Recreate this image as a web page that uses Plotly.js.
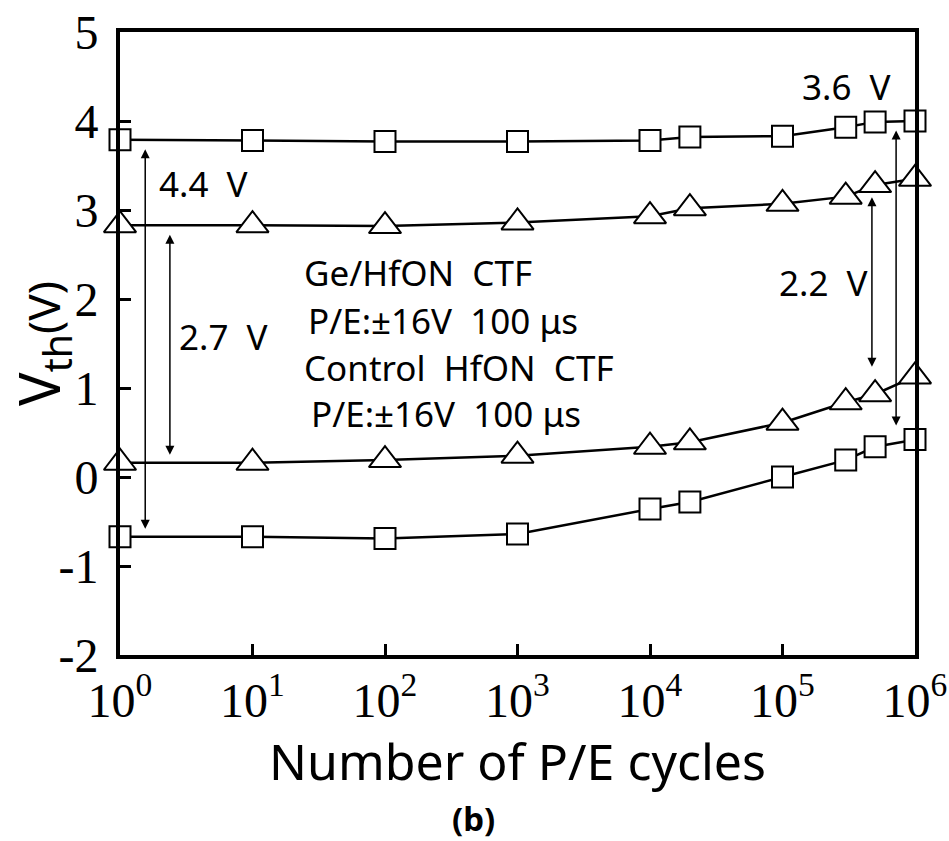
<!DOCTYPE html>
<html>
<head>
<meta charset="utf-8">
<script src="https://cdn.plot.ly/plotly-3.0.1.min.js"></script>
<style>
  html, body { margin: 0; padding: 0; background: #fff; }
  #chart { width: 949px; height: 841px; }
</style>
</head>
<body>
<div id="chart"></div>
<script>
// P/E cycle counts
const cycles = [1, 10, 100, 1000, 1e4, 2e4, 1e5, 3e5, 5e5, 1e6];

// Threshold voltage (V) after program / erase
const geProgrammed   = [3.79, 3.78, 3.77, 3.77, 3.78, 3.82, 3.83, 3.93, 3.99, 4.00];
const geErased       = [-0.67, -0.67, -0.69, -0.64, -0.36, -0.28, 0.00, 0.19, 0.34, 0.42];
const ctrlProgrammed = [2.83, 2.83, 2.82, 2.86, 2.93, 3.02, 3.07, 3.15, 3.28, 3.35];
const ctrlErased     = [0.16, 0.16, 0.19, 0.24, 0.34, 0.39, 0.61, 0.84, 0.93, 1.13];

// Axis ticks
const xTickVals = [1, 10, 100, 1000, 1e4, 1e5, 1e6];
const xTickText = ['10<sup>0</sup>', '10<sup>1</sup>', '10<sup>2</sup>', '10<sup>3</sup>',
                   '10<sup>4</sup>', '10<sup>5</sup>', '10<sup>6</sup>'];
const yTickVals = [-2, -1, 0, 1, 2, 3, 4, 5];
const yTickText = ['-2', '-1', '0', '1', '2', '3', '4', '5'];

// Memory-window arrows: cycle position, upper and lower V
const windowArrows = [
  {x: 1.55, top: 3.79, bottom: -0.67},
  {x: 2.38, top: 2.83, bottom: 0.16},
  {x: 4.73e5, top: 3.25, bottom: 1.15},
  {x: 7.2e5, top: 4.00, bottom: 0.49}
];

const sans = 'Noto Sans, Open Sans, DejaVu Sans, sans-serif';
const serif = 'Liberation Serif, Times New Roman, serif';

function series(y, symbol, size) {
  return {
    x: cycles, y: y, type: 'scatter', mode: 'lines+markers', cliponaxis: false,
    line: {color: '#000', width: 2.5},
    marker: {symbol: symbol, size: size, color: '#fff', line: {color: '#000', width: 2}},
    showlegend: false, hoverinfo: 'x+y'
  };
}

const traces = [
  series(geProgrammed, 'square', 21),
  series(ctrlProgrammed, 'triangle-up', 28),
  series(ctrlErased, 'triangle-up', 28),
  series(geErased, 'square', 21)
];

const annotations = [];
windowArrows.forEach(a => {
  const lx = Math.log10(a.x);
  annotations.push({
    x: lx, y: a.bottom, ax: lx, ay: a.top, xref: 'x', yref: 'y', axref: 'x', ayref: 'y',
    text: '', showarrow: true, arrowside: 'end+start',
    arrowhead: 2, startarrowhead: 2, arrowsize: 1.2, startarrowsize: 1.2,
    arrowwidth: 1.5, arrowcolor: '#000', standoff: 8, startstandoff: 8
  });
});

function label(text, px, py, anchor) {
  return {
    text: text, xref: 'paper', yref: 'paper',
    x: (px - 120) / 795, y: (655 - py) / 623,
    xanchor: anchor || 'center', yanchor: 'middle', showarrow: false,
    font: {family: sans, size: 35, color: '#000'}
  };
}
annotations.push(label('4.4\u00a0 V', 203, 184));
annotations.push(label('2.7\u00a0 V', 223, 336));
annotations.push(label('3.6\u00a0 V', 846, 86));
annotations.push(label('2.2\u00a0 V', 823, 282));
annotations.push(label('Ge/HfON\u00a0 CTF', 302, 272, 'left'));
annotations.push(label('P/E:\u00b116V\u00a0 100\u00a0\u03bcs', 306, 320, 'left'));
annotations.push(label('Control\u00a0 HfON\u00a0 CTF', 302, 367, 'left'));
annotations.push(label('P/E:\u00b116V\u00a0 100\u00a0\u03bcs', 309, 413, 'left'));
annotations.push({
  text: '<b>(b)</b>', xref: 'paper', yref: 'paper',
  x: (473 - 120) / 795, y: (655 - 818) / 623, xanchor: 'center', yanchor: 'middle',
  showarrow: false, font: {family: sans, size: 33, color: '#000'}
});

const axisCommon = {
  showline: true, mirror: true, linecolor: '#000', linewidth: 4,
  ticks: 'inside', ticklen: 11, tickwidth: 3, tickcolor: '#000',
  showgrid: false, zeroline: false
};

const layout = {
  width: 949, height: 841,
  margin: {l: 120, r: 34, t: 32, b: 186},
  paper_bgcolor: '#fff', plot_bgcolor: '#fff',
  xaxis: Object.assign({}, axisCommon, {
    type: 'log', range: [0, 6],
    tickmode: 'array', tickvals: xTickVals, ticktext: xTickText,
    tickfont: {family: serif, size: 48, color: '#000'},
    title: {text: 'Number of P/E cycles', font: {family: sans, size: 50, color: '#000'}, standoff: 0}
  }),
  yaxis: Object.assign({}, axisCommon, {
    range: [-2, 5], tickmode: 'array', tickvals: yTickVals, ticktext: yTickText,
    tickfont: {family: serif, size: 48, color: '#000'},
    ticklabelstandoff: 8,
    title: {text: 'V<sub>th</sub><span style="font-size:44px">(V)</span>',
            font: {family: sans, size: 56, color: '#000'}, standoff: 20}
  }),
  annotations: annotations
};

Plotly.newPlot('chart', traces, layout, {displayModeBar: false, staticPlot: true});
</script>
</body>
</html>
